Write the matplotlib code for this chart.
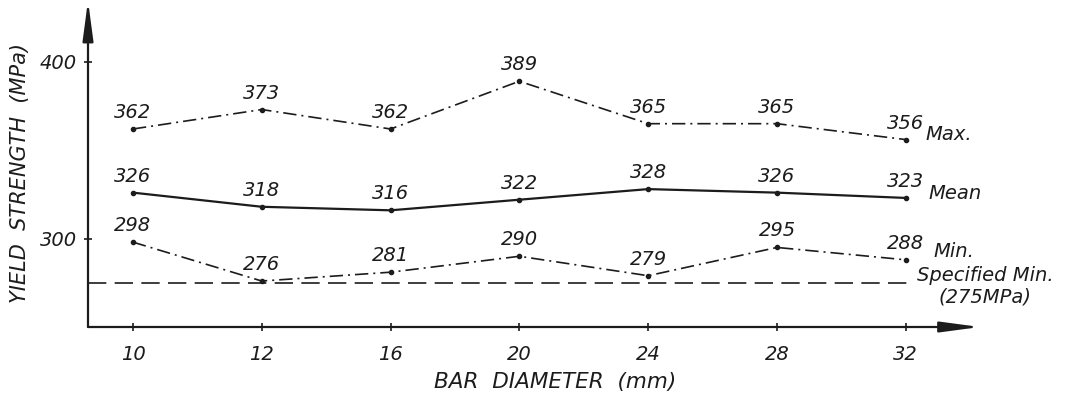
import matplotlib
matplotlib.use("Agg")
import matplotlib.pyplot as plt

sizes = ["10", "12", "16", "20", "24", "28", "32"]
max_vals = [362, 373, 362, 389, 365, 365, 356]
mean_vals = [326, 318, 316, 322, 328, 326, 323]
min_vals = [298, 276, 281, 290, 279, 295, 288]
spec_min = 275
y_ticks = [300, 400]
series_names = ["Max.", "Mean", "Min."]
spec_label = "Specified Min.\n(275MPa)"
x_title = "BAR  DIAMETER  (mm)"
y_title = "YIELD  STRENGTH  (MPa)"

INK = "#1c1c1c"
plt.rcParams["font.family"] = ["DejaVu Sans"]
plt.rcParams["font.style"] = "oblique"
FS = 14

fig = plt.figure(figsize=(10.79, 4.01), dpi=100)
ax = fig.add_axes([88 / 1079, (401 - 327) / 401, (980 - 88) / 1079, (327 - 7) / 401])
ax.set_xlim(-0.349, 6.576)
ax.set_ylim(250, 431)
for s in ax.spines.values():
    s.set_visible(False)

xs = list(range(len(sizes)))

# axes with arrows
for tip in [(1, 0), (0, 1.02)]:
    ax.annotate("", xy=tip, xytext=(0, 0), xycoords="axes fraction",
                arrowprops=dict(arrowstyle="-|>,head_length=1.2,head_width=0.16",
                                lw=1.6, color=INK, mutation_scale=20, shrinkA=0, shrinkB=0),
                annotation_clip=False)

ax.set_xticks(xs)
ax.set_xticklabels(sizes)
ax.set_yticks(y_ticks)
ax.tick_params(direction="inout", length=6, width=1.2, color=INK, labelcolor=INK,
               labelsize=FS)
ax.tick_params(axis="x", pad=10)
ax.tick_params(axis="y", pad=5)

# specified min line
ax.plot([-0.349, 6.03], [spec_min, spec_min], color=INK, lw=1.2, dashes=(11, 5))

# series
ax.plot(xs, max_vals, color=INK, lw=1.2, dashes=(8, 3, 1.2, 3), marker="o", ms=3)
ax.plot(xs, mean_vals, color=INK, lw=1.6, marker="o", ms=3)
ax.plot(xs, min_vals, color=INK, lw=1.2, dashes=(8, 3, 1.2, 3), marker="o", ms=3)

for vals in (max_vals, mean_vals, min_vals):
    for x, v in zip(xs, vals):
        ax.annotate(str(v), (x, v), xytext=(0, 5), textcoords="offset points",
                    ha="center", va="bottom", fontsize=FS, color=INK)

# series names
ax.annotate(series_names[0], (6, max_vals[-1]), xytext=(14, 4), textcoords="offset points",
            ha="left", va="center", fontsize=FS, color=INK)
ax.annotate(series_names[1], (6, mean_vals[-1]), xytext=(16, 3), textcoords="offset points",
            ha="left", va="center", fontsize=FS, color=INK)
ax.annotate(series_names[2], (6, min_vals[-1]), xytext=(20, 6), textcoords="offset points",
            ha="left", va="center", fontsize=FS, color=INK)
ax.annotate(spec_label, (6.03, spec_min), xytext=(5, 12), textcoords="offset points",
            ha="left", va="top", fontsize=FS, color=INK, multialignment="center",
            linespacing=1.15, annotation_clip=False)

fig.text(555 / 1079, 1 - 382 / 401, x_title, ha="center", va="center", fontsize=15.5, color=INK)
fig.text(20 / 1079, 1 - 173 / 401, y_title, ha="center", va="center", rotation=90,
         fontsize=15, color=INK)

fig.savefig("out.png", dpi=100, facecolor="white")
